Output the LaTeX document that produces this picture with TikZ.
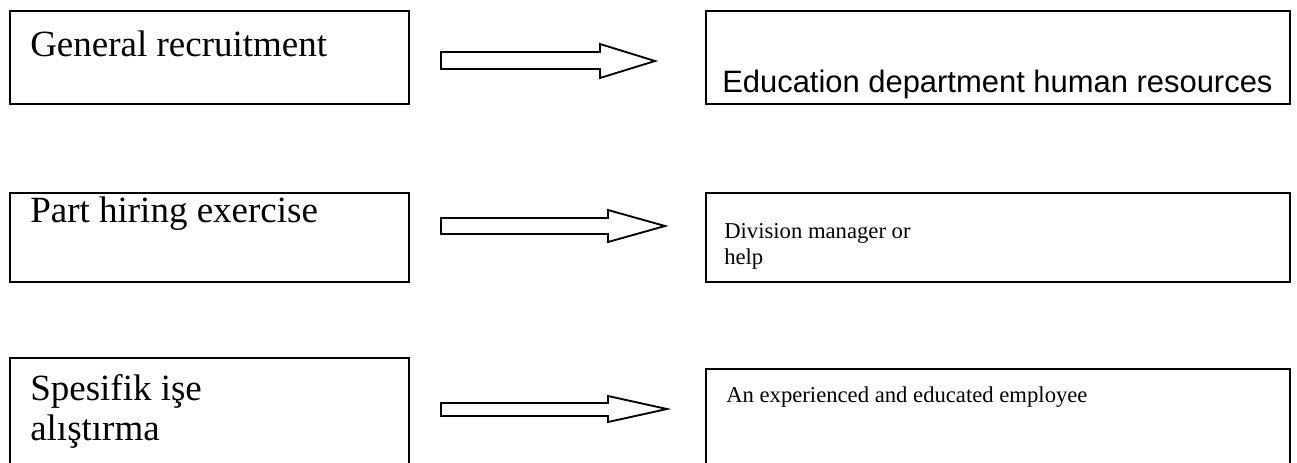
\documentclass[tikz,border=0pt]{standalone}
\usepackage{fontspec}
\setmainfont{Liberation Serif}
\newfontfamily\arialfont{Liberation Sans}
\begin{document}
\begin{tikzpicture}[x=0.75pt,y=-0.75pt,
  frame/.style={draw=black,line width=1.4pt,fill=white,inner sep=0pt,anchor=north west},
  blockarrow/.style={draw=black,line width=1.4pt,fill=white,line join=miter},
  bigtext/.style={anchor=base west,inner sep=0pt,font=\fontsize{27.75pt}{30pt}\selectfont},
  smalltext/.style={anchor=base west,inner sep=0pt,font=\fontsize{17pt}{19pt}\selectfont},
  sanstext/.style={anchor=base west,inner sep=0pt,font=\arialfont\fontsize{23.2pt}{26pt}\selectfont}]
\clip (0,0) rectangle (1297,462);
\fill[white] (0,0) rectangle (1297,462);

% left column
\node[frame,minimum width={399*0.75pt},minimum height={93*0.75pt}] (gen) at (9,10) {};
\node[frame,minimum width={399*0.75pt},minimum height={89*0.75pt}] (part) at (9,192) {};
\node[frame,minimum width={399*0.75pt},minimum height={140*0.75pt}] (spec) at (9,357) {};

\node[bigtext] (genT) at (30,56) {General recruitment};
\node[bigtext] (partT) at (30,222) {Part hiring exercise};
\node[bigtext] (specA) at (30,400) {Spesifik işe};
\node[bigtext] (specB) at (30,440) {alıştırma};

% right column
\node[frame,minimum width={584*0.75pt},minimum height={93*0.75pt}] (hr) at (705,10) {};
\node[frame,minimum width={584*0.75pt},minimum height={89*0.75pt}] (div) at (705,192) {};
\node[frame,minimum width={584*0.75pt},minimum height={140*0.75pt}] (emp) at (705,368) {};

\node[sanstext] (hrT) at (722,92) {Education department human resources};
\node[smalltext] (divA) at (724,238) {Division manager or};
\node[smalltext] (divB) at (724,264) {help};
\node[smalltext] (empT) at (726,402) {An experienced and educated employee};

% block arrows between the columns
\coordinate (a1) at (441,52);
\draw[blockarrow] (a1) -- (600,52) -- (600,44) -- (655,61) -- (600,78) -- (600,69) -- (441,69) -- cycle;
\coordinate (a2) at (441,218);
\draw[blockarrow] (a2) -- (608,218) -- (608,210) -- (665,226) -- (608,242) -- (608,234) -- (441,234) -- cycle;
\coordinate (a3) at (441,403);
\draw[blockarrow] (a3) -- (608,403) -- (608,396) -- (667,409) -- (608,422) -- (608,416) -- (441,416) -- cycle;
\end{tikzpicture}
\end{document}
